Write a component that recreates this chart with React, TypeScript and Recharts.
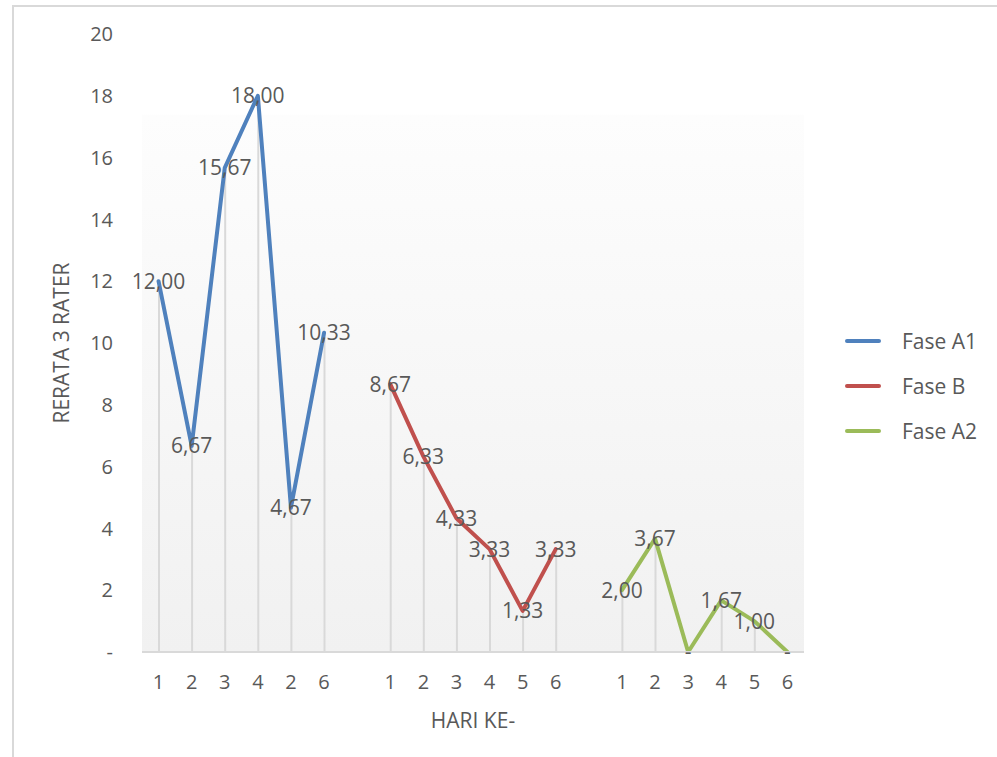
import React from 'react';
import { ComposedChart, Line, Bar, XAxis, YAxis, CartesianGrid, Legend, LabelList, Label } from 'recharts';

// rata-rata skor dari 3 rater per hari, tiap fase
const hariA1 = ['1', '2', '3', '4', '2', '6'];
const hariB = ['1', '2', '3', '4', '5', '6'];
const hariA2 = ['1', '2', '3', '4', '5', '6'];

const faseA1 = [12.0, 6.67, 15.67, 18.0, 4.67, 10.33];
const faseB = [8.67, 6.33, 4.33, 3.33, 1.33, 3.33];
const faseA2 = [2.0, 3.67, 0, 1.67, 1.0, 0];

const yTicks = [0, 2, 4, 6, 8, 10, 12, 14, 16, 18, 20];
const legendOrder = ['Fase A1', 'Fase B', 'Fase A2'];

type Row = { hari: string; a1: number | null; b: number | null; a2: number | null };

const rows: Row[] = [];
hariA1.forEach((h, i) => rows.push({ hari: h, a1: faseA1[i], b: null, a2: null }));
rows.push({ hari: '', a1: null, b: null, a2: null });
hariB.forEach((h, i) => rows.push({ hari: h, a1: null, b: faseB[i], a2: null }));
rows.push({ hari: '', a1: null, b: null, a2: null });
hariA2.forEach((h, i) => rows.push({ hari: h, a1: null, b: null, a2: faseA2[i] }));

const FONT = '"Open Sans", sans-serif';
const TXT = '#595959';

const fmt = (v: any) => {
  if (v === null || v === undefined) return '';
  if (v === 0) return '-';
  return Number(v).toFixed(2).replace('.', ',');
};

const LegendBox = (props: any) => {
  const items = (props.payload || [])
    .filter((p: any) => p.type !== 'none')
    .sort((a: any, b: any) => legendOrder.indexOf(a.value) - legendOrder.indexOf(b.value));
  return (
    <div style={{ fontFamily: FONT, fontSize: 21, color: TXT }}>
      {items.map((p: any) => (
        <div key={p.value} style={{ display: 'flex', alignItems: 'center', height: 45 }}>
          <div style={{ width: 36, height: 4, borderRadius: 2, background: p.color, marginRight: 21 }} />
          <span>{p.value}</span>
        </div>
      ))}
    </div>
  );
};

const App: React.FC = () => {
  const labelStyle = { fontFamily: FONT, fontSize: 21, fill: TXT };
  return (
    <div style={{ position: 'fixed', left: 0, top: 0, width: 997, height: 757, overflow: 'hidden', background: '#fff' }}>
      <div
        style={{
          position: 'absolute',
          left: 12,
          top: 5,
          width: 1100,
          height: 900,
          borderTop: '2px solid #d9d9d9',
          borderLeft: '2px solid #d9d9d9',
        }}
      />
      <div style={{ position: 'absolute', left: 0, top: 0 }}>
        <ComposedChart width={997} height={757} data={rows} margin={{ top: 34, right: 43, bottom: 25, left: 0 }}>
          <defs>
            <linearGradient id="plotBg" x1="0" y1="0" x2="0" y2="1">
              <stop offset="0" stopColor="#ffffff" />
              <stop offset="0.13" stopColor="#ffffff" />
              <stop offset="0.131" stopColor="#fdfdfd" />
              <stop offset="1" stopColor="#f1f1f1" />
            </linearGradient>
          </defs>
          <CartesianGrid horizontal={false} vertical={false} fill="url(#plotBg)" />
          <XAxis
            dataKey="hari"
            height={80}
            tickLine={false}
            axisLine={{ stroke: '#d9d9d9', strokeWidth: 2 }}
            tick={{ fontFamily: FONT, fontSize: 20, fill: TXT }}
            tickSize={0}
            tickMargin={23}
            interval={0}
          >
            <Label value="HARI KE-" position="insideBottom" offset={4} style={{ fontFamily: FONT, fontSize: 21, fill: TXT }} />
          </XAxis>
          <YAxis
            width={142}
            domain={[0, 20]}
            ticks={yTicks}
            tickFormatter={(v: number) => (v === 0 ? '-' : String(v))}
            axisLine={false}
            tickLine={false}
            tickSize={0}
            tickMargin={29}
            tick={{ fontFamily: FONT, fontSize: 20, fill: TXT }}
          >
            <Label value="RERATA 3 RATER" angle={-90} position="center" dx={-9} style={{ fontFamily: FONT, fontSize: 21, fill: TXT }} />
          </YAxis>
          <Legend
            layout="vertical"
            verticalAlign="middle"
            align="right"
            content={<LegendBox />}
            wrapperStyle={{ left: 845, top: 318, width: 150 }}
          />

          {/* garis jatuh (drop lines) */}
          <Bar dataKey="a1" stackId="drop" barSize={2} fill="#d9d9d9" legendType="none" isAnimationActive={false} />
          <Bar dataKey="b" stackId="drop" barSize={2} fill="#d9d9d9" legendType="none" isAnimationActive={false} />
          <Bar dataKey="a2" stackId="drop" barSize={2} fill="#d9d9d9" legendType="none" isAnimationActive={false} />

          <Line name="Fase A1" dataKey="a1" stroke="#4f81bd" strokeWidth={4} strokeLinejoin="round" strokeLinecap="round" dot={false} activeDot={false} isAnimationActive={false}>
            <LabelList dataKey="a1" position="center" formatter={fmt} style={labelStyle} />
          </Line>
          <Line name="Fase B" dataKey="b" stroke="#c0504d" strokeWidth={4} strokeLinejoin="round" strokeLinecap="round" dot={false} activeDot={false} isAnimationActive={false}>
            <LabelList dataKey="b" position="center" formatter={fmt} style={labelStyle} />
          </Line>
          <Line name="Fase A2" dataKey="a2" stroke="#9bbb59" strokeWidth={4} strokeLinejoin="round" strokeLinecap="round" dot={false} activeDot={false} isAnimationActive={false}>
            <LabelList dataKey="a2" position="center" formatter={fmt} style={labelStyle} />
          </Line>
        </ComposedChart>
      </div>
    </div>
  );
};

export default App;
